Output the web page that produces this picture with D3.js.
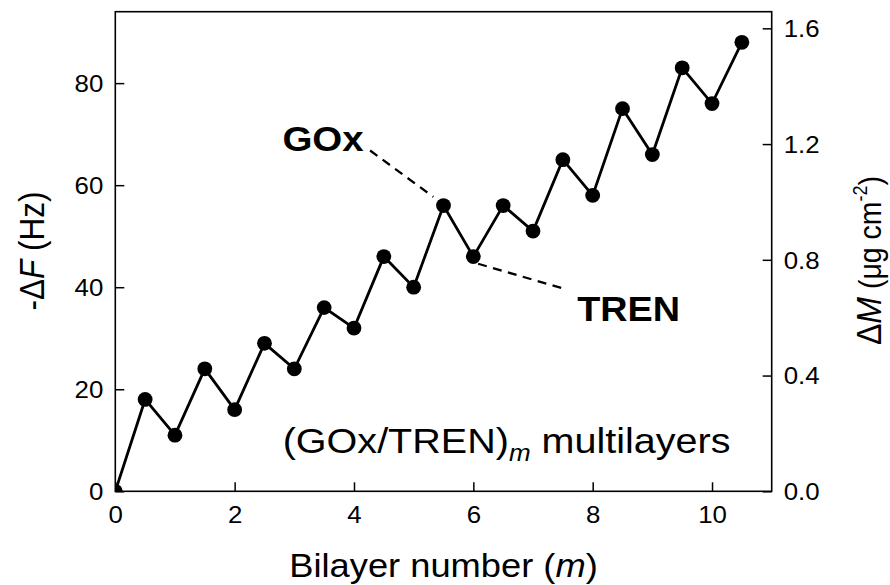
<!DOCTYPE html>
<html>
<head>
<meta charset="utf-8">
<script src="https://cdn.jsdelivr.net/npm/d3@7"></script>
<style>
  html, body { margin: 0; padding: 0; background: #fff; }
  svg { display: block; font-family: "Liberation Sans", Arial, sans-serif; }
</style>
</head>
<body>
<svg id="chart" width="890" height="585"></svg>
<script>
// Bilayer number (half steps: GOx then TREN adsorption)
const bilayers = [0, 0.5, 1, 1.5, 2, 2.5, 3, 3.5, 4, 4.5, 5, 5.5, 6, 6.5, 7, 7.5, 8, 8.5, 9, 9.5, 10, 10.5];
// Frequency shift -ΔF (Hz)
const deltaF = [0, 18, 11, 24, 16, 29, 24, 36, 32, 46, 40, 56, 46, 56, 51, 65, 58, 75, 66, 83, 76, 88];

const xTicks = [0, 2, 4, 6, 8, 10];
const yLeftTicks = [0, 20, 40, 60, 80];
const yRightTicks = [0.0, 0.4, 0.8, 1.2, 1.6];

// Axis ranges
const xDomain = [0, 11];
const yLeftDomain = [0, 94];
const yRightDomain = [0, 1.6575];

// Leader-line annotations (data coordinates)
const notes = [
  { text: "GOx",  tx: 2.80, ty: 66.6, x1: 4.27, y1: 66.8, x2: 5.33, y2: 57.7, stretch: 1.10 },
  { text: "TREN", tx: 7.74, ty: 33.4, x1: 6.08, y1: 44.6, x2: 7.49, y2: 39.8, stretch: 1.08 }
];

const svg = d3.select("#chart");
const plot = { left: 115.3, right: 771.7, top: 11.7, bottom: 491.3 };

const x = d3.scaleLinear().domain(xDomain).range([plot.left, plot.right]);
const yL = d3.scaleLinear().domain(yLeftDomain).range([plot.bottom, plot.top]);
const yR = d3.scaleLinear().domain(yRightDomain).range([plot.bottom, plot.top]);

svg.append("defs").append("clipPath").attr("id", "plotclip")
  .append("rect")
  .attr("x", plot.left).attr("y", plot.top)
  .attr("width", plot.right - plot.left).attr("height", plot.bottom - plot.top);

const tickLen = 9;
const tickFont = 23.5;
const sx = 1.1;

// Axes with inward ticks
const gx = svg.append("g").attr("transform", `translate(0,${plot.bottom})`)
  .call(d3.axisBottom(x).tickValues(xTicks).tickSize(-tickLen).tickSizeOuter(0).tickFormat(d3.format("d")));
const gl = svg.append("g").attr("transform", `translate(${plot.left},0)`)
  .call(d3.axisLeft(yL).tickValues(yLeftTicks).tickSize(-tickLen).tickSizeOuter(0).tickFormat(d3.format("d")));
const gr = svg.append("g").attr("transform", `translate(${plot.right},0)`)
  .call(d3.axisRight(yR).tickValues(yRightTicks).tickSize(-tickLen).tickSizeOuter(0).tickFormat(d3.format(".1f")));

[gx, gl, gr].forEach(g => {
  g.select(".domain").remove();
  g.selectAll(".tick line").attr("stroke", "#000").attr("stroke-width", 1.5);
  g.selectAll(".tick text").attr("fill", "#000").attr("font-size", tickFont)
    .attr("font-family", "Liberation Sans, Arial, sans-serif");
});

// Horizontally widened tick labels
gx.selectAll(".tick text")
  .attr("y", null).attr("dy", null)
  .attr("text-anchor", "middle")
  .attr("transform", `translate(0,32) scale(${sx},1)`);
gl.selectAll(".tick text")
  .attr("x", null).attr("dy", "0.35em")
  .attr("text-anchor", "end")
  .attr("transform", `translate(-12,0) scale(${sx},1)`);
gr.selectAll(".tick text")
  .attr("x", null).attr("dy", "0.35em")
  .attr("text-anchor", "start")
  .attr("transform", `translate(12,0) scale(${sx},1)`);

// Frame
svg.append("rect")
  .attr("x", plot.left).attr("y", plot.top)
  .attr("width", plot.right - plot.left).attr("height", plot.bottom - plot.top)
  .attr("fill", "none").attr("stroke", "#000").attr("stroke-width", 1.6);

// Data line and markers
const pts = bilayers.map((b, i) => [b, deltaF[i]]);
const dataG = svg.append("g").attr("clip-path", "url(#plotclip)");
dataG.append("path")
  .datum(pts)
  .attr("fill", "none").attr("stroke", "#000").attr("stroke-width", 2.8)
  .attr("stroke-linejoin", "miter")
  .attr("d", d3.line().x(d => x(d[0])).y(d => yL(d[1])));
dataG.selectAll("circle").data(pts).join("circle")
  .attr("cx", d => x(d[0])).attr("cy", d => yL(d[1]))
  .attr("r", 7.4).attr("fill", "#000");

// Annotations
notes.forEach(n => {
  svg.append("line")
    .attr("x1", x(n.x1)).attr("y1", yL(n.y1))
    .attr("x2", x(n.x2)).attr("y2", yL(n.y2))
    .attr("stroke", "#000").attr("stroke-width", 2.3)
    .attr("stroke-dasharray", "9,6.5");
  svg.append("text")
    .attr("transform", `translate(${x(n.tx)},${yL(n.ty)}) scale(${n.stretch},1)`)
    .attr("font-size", 35).attr("font-weight", "bold").attr("fill", "#000")
    .text(n.text);
});

// Inset label
const inset = svg.append("text")
  .attr("transform", `translate(282.7,453.3) scale(1.13,1)`)
  .attr("font-size", 35).attr("fill", "#000");
inset.append("tspan").text("(GOx/TREN)");
inset.append("tspan").attr("font-style", "italic").attr("font-size", 23).attr("dy", 8).text("m");
inset.append("tspan").attr("dy", -8).text(" multilayers");

// X axis title
const xt = svg.append("text")
  .attr("transform", `translate(${(plot.left + plot.right) / 2},576.7) scale(1.1,1)`)
  .attr("text-anchor", "middle").attr("font-size", 33).attr("fill", "#000");
xt.append("tspan").text("Bilayer number (");
xt.append("tspan").attr("font-style", "italic").text("m");
xt.append("tspan").text(")");

// Left axis title
const lt = svg.append("text")
  .attr("transform", `translate(44,251) scale(1.1,1) rotate(-90)`)
  .attr("text-anchor", "middle").attr("font-size", 31.5).attr("fill", "#000");
lt.append("tspan").text("-Δ");
lt.append("tspan").attr("font-style", "italic").text("F");
lt.append("tspan").text(" (Hz)");

// Right axis title
const rt = svg.append("text")
  .attr("transform", `translate(881,345) scale(1.1,1) rotate(-90)`)
  .attr("text-anchor", "start").attr("font-size", 32).attr("fill", "#000");
rt.append("tspan").text("Δ");
rt.append("tspan").attr("font-style", "italic").text("M");
rt.append("tspan").attr("font-size", 28.5).text(" (μg cm");
rt.append("tspan").attr("font-size", 18).attr("dy", -13).text("-2");
rt.append("tspan").attr("font-size", 28.5).attr("dy", 13).text(")");
</script>
</body>
</html>
